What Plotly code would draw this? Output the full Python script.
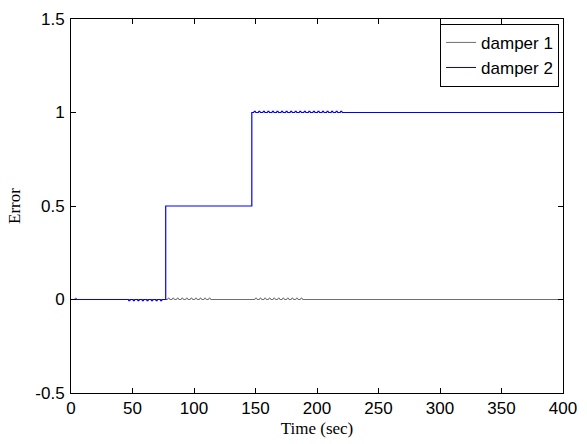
import plotly.graph_objects as go

# Piecewise-constant error levels: change times (sec) and the level held in each interval
d1_edges = [0, 400]
d1_levels = [0.0]
d2_edges = [0, 77, 147, 400]
d2_levels = [0.0, 0.5, 1.0]

# Small chattering bumps riding on the levels: start times (sec) and bump height
d1_bumps = [3.0, 78.5, 82.2, 85.9, 89.6, 93.3, 97.0, 100.7, 104.4, 108.1, 111.8,
            149.5, 153.2, 156.9, 160.6, 164.3, 168.0, 171.7, 175.4, 179.1, 182.8, 186.5]
d1_bump_h = 0.008
d2_bumps_low = [46.5, 50.2, 53.9, 57.6, 61.3, 65.0, 68.7, 72.4]
d2_bump_low_h = -0.006
d2_bumps_high = [148.5, 152.2, 155.9, 159.6, 163.3, 167.0, 170.7, 174.4, 178.1, 181.8,
                 185.5, 189.2, 192.9, 196.6, 200.3, 204.0, 207.7, 211.4, 215.1, 218.8]
d2_bump_high_h = 0.006
bump_w = 1.8

x_ticks = [0, 50, 100, 150, 200, 250, 300, 350, 400]
y_ticks = [-0.5, 0, 0.5, 1, 1.5]
y_tick_text = ["-0.5", "0", "0.5", "1", "1.5"]


def level_at(edges, levels, t):
    for i, v in enumerate(levels):
        if edges[i] <= t < edges[i + 1]:
            return v
    return levels[-1]


def build(edges, levels, bump_sets):
    pts = []
    for i, v in enumerate(levels):
        pts += [(edges[i], v), (edges[i + 1], v)]
    for starts, h in bump_sets:
        for s in starts:
            v = level_at(edges, levels, s)
            pts += [(s, v), (s + 0.3 * bump_w, v + h), (s + 0.7 * bump_w, v + h), (s + bump_w, v)]
    pts.sort(key=lambda p: p[0])
    return [p[0] for p in pts], [p[1] for p in pts]


x1, y1 = build(d1_edges, d1_levels, [(d1_bumps, d1_bump_h)])
x2, y2 = build(d2_edges, d2_levels, [(d2_bumps_low, d2_bump_low_h), (d2_bumps_high, d2_bump_high_h)])

fig = go.Figure()
fig.add_trace(go.Scatter(x=x1, y=y1, mode="lines", name="damper 1",
                         line=dict(color="#6e6e6e", width=1)))
fig.add_trace(go.Scatter(x=x2, y=y2, mode="lines", name="damper 2",
                         line=dict(color="#0000ff", width=1.2)))

sans = "Liberation Sans, Arial, sans-serif"
serif = "Liberation Serif, Times New Roman, serif"

axis_common = dict(showline=True, linecolor="black", linewidth=1, mirror="ticks",
                   ticks="inside", ticklen=5, tickcolor="black", showgrid=False,
                   zeroline=False,
                   tickfont=dict(family=sans, size=17, color="black"))

fig.update_layout(
    width=587, height=444,
    margin=dict(l=71, r=24, t=10, b=44),
    paper_bgcolor="white", plot_bgcolor="white",
    showlegend=True,
    legend=dict(x=0.992, y=0.987, xanchor="right", yanchor="top",
                bgcolor="white", bordercolor="black", borderwidth=1,
                font=dict(family=sans, size=17, color="black"),
                tracegroupgap=0, itemwidth=30),
    xaxis=dict(range=[0, 400], tickvals=x_ticks, ticklabelstandoff=0,
               title=dict(text="Time (sec)", standoff=4,
                          font=dict(family=serif, size=17, color="black")),
               **axis_common),
    yaxis=dict(range=[-0.5, 1.5], tickvals=y_ticks, ticktext=y_tick_text,
               ticklabelstandoff=2,
               title=dict(text="Error", standoff=10,
                          font=dict(family=serif, size=17, color="black")),
               **axis_common),
)

fig.write_html("out.html")
